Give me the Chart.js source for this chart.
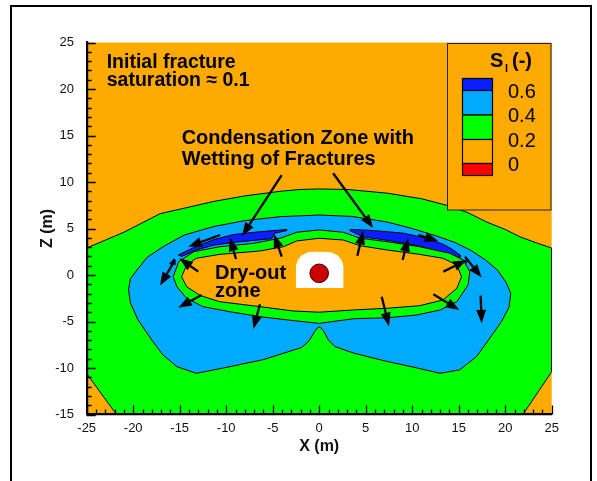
<!DOCTYPE html>
<html>
<head>
<meta charset="utf-8">
<script src="https://cdn.jsdelivr.net/npm/chart.js@4"></script>
<style>
  body { margin: 0; background: #fff; }
  #wrap { width: 597px; height: 481px; position: relative; }
</style>
</head>
<body>
<div id="wrap"><canvas id="satChart"></canvas></div>
<script>
// axis ranges (m)
const xLimits = [-25, 25];
const zLimits = [-15, 25];
const legendLabels = ['0.6', '0.4', '0.2', '0'];

// contour outlines, [x, z] in metres
// S >= 0.2 (green)
const zoneGreen = [[-21.8, -15], [-25, -10.6], [-25, 2.9], [-21, 4.6], [-17.1, 6.6], [-14, 7.3], [-11.4, 7.9],
  [-8, 8.5], [-4.2, 9.0], [-2, 9.2], [0, 9.25], [3, 9.2], [7.3, 8.8], [11, 8.2], [13.7, 7.5], [16, 6.7],
  [18, 5.7], [20, 4.9], [21.6, 4.1], [23.5, 3.4], [25, 2.9], [25, -10.4], [21.9, -15]];
// S >= 0.4 (light blue)
const zoneBlue = [[0, 6.45], [3.5, 6.3], [7.3, 5.7], [10, 5.0], [12.6, 4.2], [14.6, 3.5], [16.4, 2.6], [17.9, 1.6],
  [19.2, 0.5], [20.1, -0.8], [20.6, -2.0], [20.4, -3.5], [19.6, -5.0], [18.7, -6.3], [16.9, -8.8], [15.1, -10.2],
  [13.0, -10.57], [10.1, -9.9], [7.3, -9.3], [3.7, -8.4], [1.7, -7.7], [1.0, -7.0], [0.5, -6.1], [0.2, -5.7],
  [0, -5.6], [-0.2, -5.7], [-0.5, -6.1], [-1.1, -7.1], [-1.9, -7.8], [-6.0, -9.1], [-10.3, -10.0], [-13.2, -10.57],
  [-15.3, -9.86], [-16.8, -8.6], [-18.0, -7.0], [-19.5, -4.8], [-20.3, -3.0], [-20.5, -1.6], [-20.3, -0.4],
  [-19.6, 0.54], [-18.5, 1.9], [-16.8, 3.04], [-14.5, 4.3], [-11.4, 5.2], [-8, 5.85], [-4.2, 6.27]];
// green ring round the dry-out zone
const zoneRing = [[0, 4.85], [-2.4, 4.6], [-4.2, 3.95], [-7.1, 3.4], [-10.7, 3.04], [-13.5, 2.5], [-15.1, 1.43],
  [-15.7, -0.18], [-15.3, -1.26], [-14.25, -2.5], [-12.5, -3.4], [-9.6, -3.95], [-6.4, -4.48], [-2.8, -4.9],
  [0, -5.2], [3.7, -4.7], [7.3, -4.6], [10.5, -4.3], [13.0, -3.76], [14.8, -2.87], [16.0, -1.08], [16.2, 0.35],
  [15.5, 1.6], [14.06, 2.33], [10.8, 3.04], [7.3, 3.58], [4.4, 3.95], [2.6, 4.59]];
// S < 0.2 dry-out zone (orange)
const zoneDry = [[0, 3.95], [-2.42, 3.66], [-3.86, 3.04], [-6.4, 2.58], [-10.7, 2.22], [-13.2, 1.8], [-14.25, 1.08],
  [-14.8, -0.18], [-14.25, -1.26], [-12.8, -2.2], [-10.7, -2.87], [-6.4, -3.4], [-2.8, -3.87], [0, -4.0],
  [3.7, -3.76], [7.3, -3.58], [10.8, -3.3], [13.3, -2.69], [14.8, -1.43], [15.3, -0.18], [14.8, 1.08],
  [13.3, 1.8], [10.8, 2.22], [7.3, 2.69], [4.4, 3.15], [2.6, 3.76]];
// S >= 0.6 (dark blue) condensation strips
const wetLeft = [[-15.15, 2.15], [-13.53, 2.94], [-11.38, 3.8], [-9.23, 4.35], [-6.72, 4.62], [-4.57, 4.8],
  [-3.5, 4.9], [-3.5, 4.77], [-4.75, 4.5], [-5.11, 3.9], [-6.72, 3.75], [-9.23, 3.5], [-11.38, 3.2],
  [-13.18, 2.7], [-14.79, 2.0]];
const wetRight = [[3.31, 4.9], [5.82, 4.78], [9.05, 4.5], [11.55, 3.95], [13.35, 3.3], [14.42, 2.69],
  [15.14, 2.15], [15.14, 1.9], [14.06, 2.1], [12.63, 2.55], [10.84, 3.1], [8.69, 3.5], [6.54, 3.85],
  [4.74, 4.1], [3.67, 4.59], [3.31, 4.77]];
const wetBitLeft = [[-16.1, 1.2], [-15.6, 1.75], [-15.45, 1.15]];
const wetBitRight = [[15.4, 1.55], [16.0, 1.6], [15.8, 1.25]];
// excavated drift (no data) and canister
const driftHole = [[-2.5, -1.4], [-2.5, 1.0], [-2.3, 1.6], [-1.9, 2.1], [-1.2, 2.45], [-0.5, 2.5], [0.6, 2.5],
  [1.3, 2.45], [2.0, 2.1], [2.4, 1.6], [2.6, 1.0], [2.6, -1.4]];
const canister = [[0, 0.18]];

// flow arrows: [x tail, z tail, x head, z head]
const arrows = [
  [-4.03, 10.75, -8.3, 4.2],
  [1.5, 10.94, 5.8, 5.05],
  [-10.67, 4.3, -14.07, 3.05],
  [-8.95, 1.72, -9.59, 4.02],
  [-4.03, 1.97, -4.86, 4.38],
  [-13.0, 0.36, -15.04, 1.8],
  [-15.5, 1.62, -17.12, -1.14],
  [-12.64, -2.15, -15.15, -3.51],
  [-6.37, -3.15, -7.08, -5.8],
  [4.1, 2.08, 4.74, 4.73],
  [8.97, 1.62, 9.58, 3.95],
  [10.66, 4.3, 12.81, 3.66],
  [13.35, 0.36, 15.86, 1.62],
  [15.68, 1.97, 17.47, -0.28],
  [17.36, -2.22, 17.47, -5.2],
  [12.27, -2.08, 15.07, -3.76],
  [6.72, -2.33, 7.5, -5.5]
];

const colors = {
  orange: '#FFAA00',
  green: '#00FF00',
  lightBlue: '#00AAFF',
  darkBlue: '#0A1EFF',
  red: '#FF0000',
  canister: '#CC0000',
  white: '#FFFFFF'
};
const FONT = '"Liberation Sans", Arial, Helvetica, sans-serif';

function polygon(points, fillColor, lineColor) {
  const data = points.map(p => ({ x: p[0], y: p[1] }));
  data.push({ x: points[0][0], y: points[0][1] });
  return {
    data: data,
    showLine: true,
    fill: 'shape',
    backgroundColor: fillColor,
    borderColor: lineColor,
    borderWidth: lineColor ? 1 : 0,
    pointRadius: 0,
    tension: 0
  };
}

// back to front
const layers = [
  polygon(zoneGreen, colors.green, '#000'),
  polygon(zoneBlue, colors.lightBlue, '#000'),
  polygon(wetLeft, colors.darkBlue, '#000'),
  polygon(wetRight, colors.darkBlue, '#000'),
  polygon(wetBitLeft, colors.darkBlue, '#000'),
  polygon(wetBitRight, colors.darkBlue, '#000'),
  polygon(zoneRing, colors.green, '#000'),
  polygon(zoneDry, colors.orange, '#000'),
  polygon(driftHole, colors.white, null),
  {
    data: canister.map(p => ({ x: p[0], y: p[1] })),
    pointRadius: 9.3,
    pointBackgroundColor: colors.canister,
    pointBorderColor: '#3a0000',
    pointBorderWidth: 1
  }
];
layers.forEach((ds, i) => { ds.order = layers.length - i; });

const decor = {
  id: 'decor',
  beforeDraw(chart) {
    const { ctx, chartArea: a } = chart;
    ctx.save();
    ctx.fillStyle = '#fff';
    ctx.fillRect(0, 0, chart.width, chart.height);
    ctx.fillStyle = colors.orange;
    ctx.fillRect(a.left, a.top, a.right - a.left, a.bottom - a.top);
    ctx.restore();
  },
  afterDraw(chart) {
    const { ctx, chartArea: a } = chart;
    const xs = chart.scales.x, ys = chart.scales.y;
    ctx.save();

    // inward ticks
    ctx.strokeStyle = '#000';
    ctx.lineWidth = 1.3;
    ctx.beginPath();
    for (let v = xLimits[0]; v <= xLimits[1]; v++) {
      const px = Math.round(xs.getPixelForValue(v)) + 0.5;
      const len = v % 5 === 0 ? 9 : 5;
      ctx.moveTo(px, a.bottom);
      ctx.lineTo(px, a.bottom - len);
    }
    for (let v = zLimits[0]; v <= zLimits[1]; v++) {
      const py = Math.round(ys.getPixelForValue(v)) + 0.5;
      const len = v % 5 === 0 ? 9 : 5;
      ctx.moveTo(a.left, py);
      ctx.lineTo(a.left + len, py);
    }
    ctx.stroke();

    // arrows
    ctx.fillStyle = '#000';
    ctx.strokeStyle = '#000';
    arrows.forEach(([x1, z1, x2, z2]) => {
      const p1x = xs.getPixelForValue(x1), p1y = ys.getPixelForValue(z1);
      const p2x = xs.getPixelForValue(x2), p2y = ys.getPixelForValue(z2);
      const ang = Math.atan2(p2y - p1y, p2x - p1x);
      const headLen = 13.5, headHalf = 5;
      const bx = p2x - headLen * Math.cos(ang), by = p2y - headLen * Math.sin(ang);
      ctx.lineWidth = 2.3;
      ctx.beginPath();
      ctx.moveTo(p1x, p1y);
      ctx.lineTo(bx, by);
      ctx.stroke();
      ctx.beginPath();
      ctx.moveTo(p2x, p2y);
      ctx.lineTo(bx + headHalf * Math.sin(ang), by - headHalf * Math.cos(ang));
      ctx.lineTo(bx - headHalf * Math.sin(ang), by + headHalf * Math.cos(ang));
      ctx.closePath();
      ctx.fill();
    });

    // annotations
    ctx.fillStyle = '#000';
    ctx.textBaseline = 'alphabetic';
    ctx.textAlign = 'left';
    ctx.font = 'bold 19.5px ' + FONT;
    ctx.fillText('Initial fracture', xs.getPixelForValue(-22.85), ys.getPixelForValue(22.31));
    ctx.fillText('saturation \u2248 0.1', xs.getPixelForValue(-22.85), ys.getPixelForValue(20.32));
    ctx.font = 'bold 20px ' + FONT;
    ctx.fillText('Condensation Zone with', xs.getPixelForValue(-14.79), ys.getPixelForValue(14.09));
    ctx.fillText('Wetting of Fractures', xs.getPixelForValue(-14.79), ys.getPixelForValue(11.83));
    ctx.fillText('Dry-out', xs.getPixelForValue(-11.2), ys.getPixelForValue(-0.43));
    ctx.fillText('zone', xs.getPixelForValue(-11.2), ys.getPixelForValue(-2.33));

    // legend box
    const lx = 447.5, ly = 43.5, lw = 103.5, lh = 166.5;
    ctx.fillStyle = colors.orange;
    ctx.fillRect(lx, ly, lw, lh);
    ctx.strokeStyle = '#222';
    ctx.lineWidth = 1;
    ctx.strokeRect(lx, ly, lw, lh);
    ctx.fillStyle = '#000';
    ctx.font = 'bold 20px ' + FONT;
    ctx.fillText('S', 490, 67);
    ctx.font = 'bold 11px ' + FONT;
    ctx.fillText('l', 505, 72);
    ctx.font = 'bold 20px ' + FONT;
    ctx.fillText('(-)', 512, 67);

    const barX = 462.5, barW = 30;
    const edges = [78.5, 90.5, 115, 139.5, 163.5, 175.5];
    const barFill = [colors.darkBlue, colors.lightBlue, colors.green, colors.orange, colors.red];
    for (let i = 0; i < barFill.length; i++) {
      ctx.fillStyle = barFill[i];
      ctx.fillRect(barX, edges[i], barW, edges[i + 1] - edges[i]);
      ctx.strokeStyle = '#000';
      ctx.lineWidth = 1.2;
      ctx.strokeRect(barX, edges[i], barW, edges[i + 1] - edges[i]);
    }
    ctx.fillStyle = '#000';
    ctx.font = '20px ' + FONT;
    ctx.textBaseline = 'middle';
    legendLabels.forEach((t, i) => {
      ctx.fillText(t, 508, edges[i + 1] + 1.5);
    });

    // outer frame
    ctx.strokeStyle = '#000';
    ctx.lineWidth = 2;
    ctx.strokeRect(11, 6, 580, 490);
    ctx.restore();
  }
};

new Chart(document.getElementById('satChart'), {
  type: 'scatter',
  data: { datasets: layers },
  options: {
    responsive: true,
    maintainAspectRatio: false,
    animation: false,
    events: [],
    layout: { padding: { left: 0, right: 45.3, top: 42.5, bottom: 0 } },
    plugins: {
      legend: { display: false },
      tooltip: { enabled: false }
    },
    scales: {
      x: {
        type: 'linear',
        min: xLimits[0],
        max: xLimits[1],
        afterFit: s => { s.height = 66.5; },
        grid: { display: false, drawTicks: false },
        border: { display: true, color: '#000', width: 2.2, z: 2 },
        ticks: { stepSize: 5, padding: 6, color: '#111', font: { family: FONT, size: 13 } },
        title: { display: true, text: 'X (m)', color: '#111', padding: { top: 0, bottom: 24.4 },
          font: { family: FONT, size: 16, weight: 'bold' } }
      },
      y: {
        type: 'linear',
        min: zLimits[0],
        max: zLimits[1],
        afterFit: s => { s.width = 86.7; },
        grid: { display: false, drawTicks: false },
        border: { display: true, color: '#000', width: 2.2, z: 2 },
        ticks: { stepSize: 5, padding: 12.7, color: '#111', font: { family: FONT, size: 13 } },
        title: { display: true, text: 'Z (m)', color: '#111', padding: { top: 38, bottom: 0 },
          font: { family: FONT, size: 16, weight: 'bold' } }
      }
    }
  },
  plugins: [decor]
});
</script>
</body>
</html>
